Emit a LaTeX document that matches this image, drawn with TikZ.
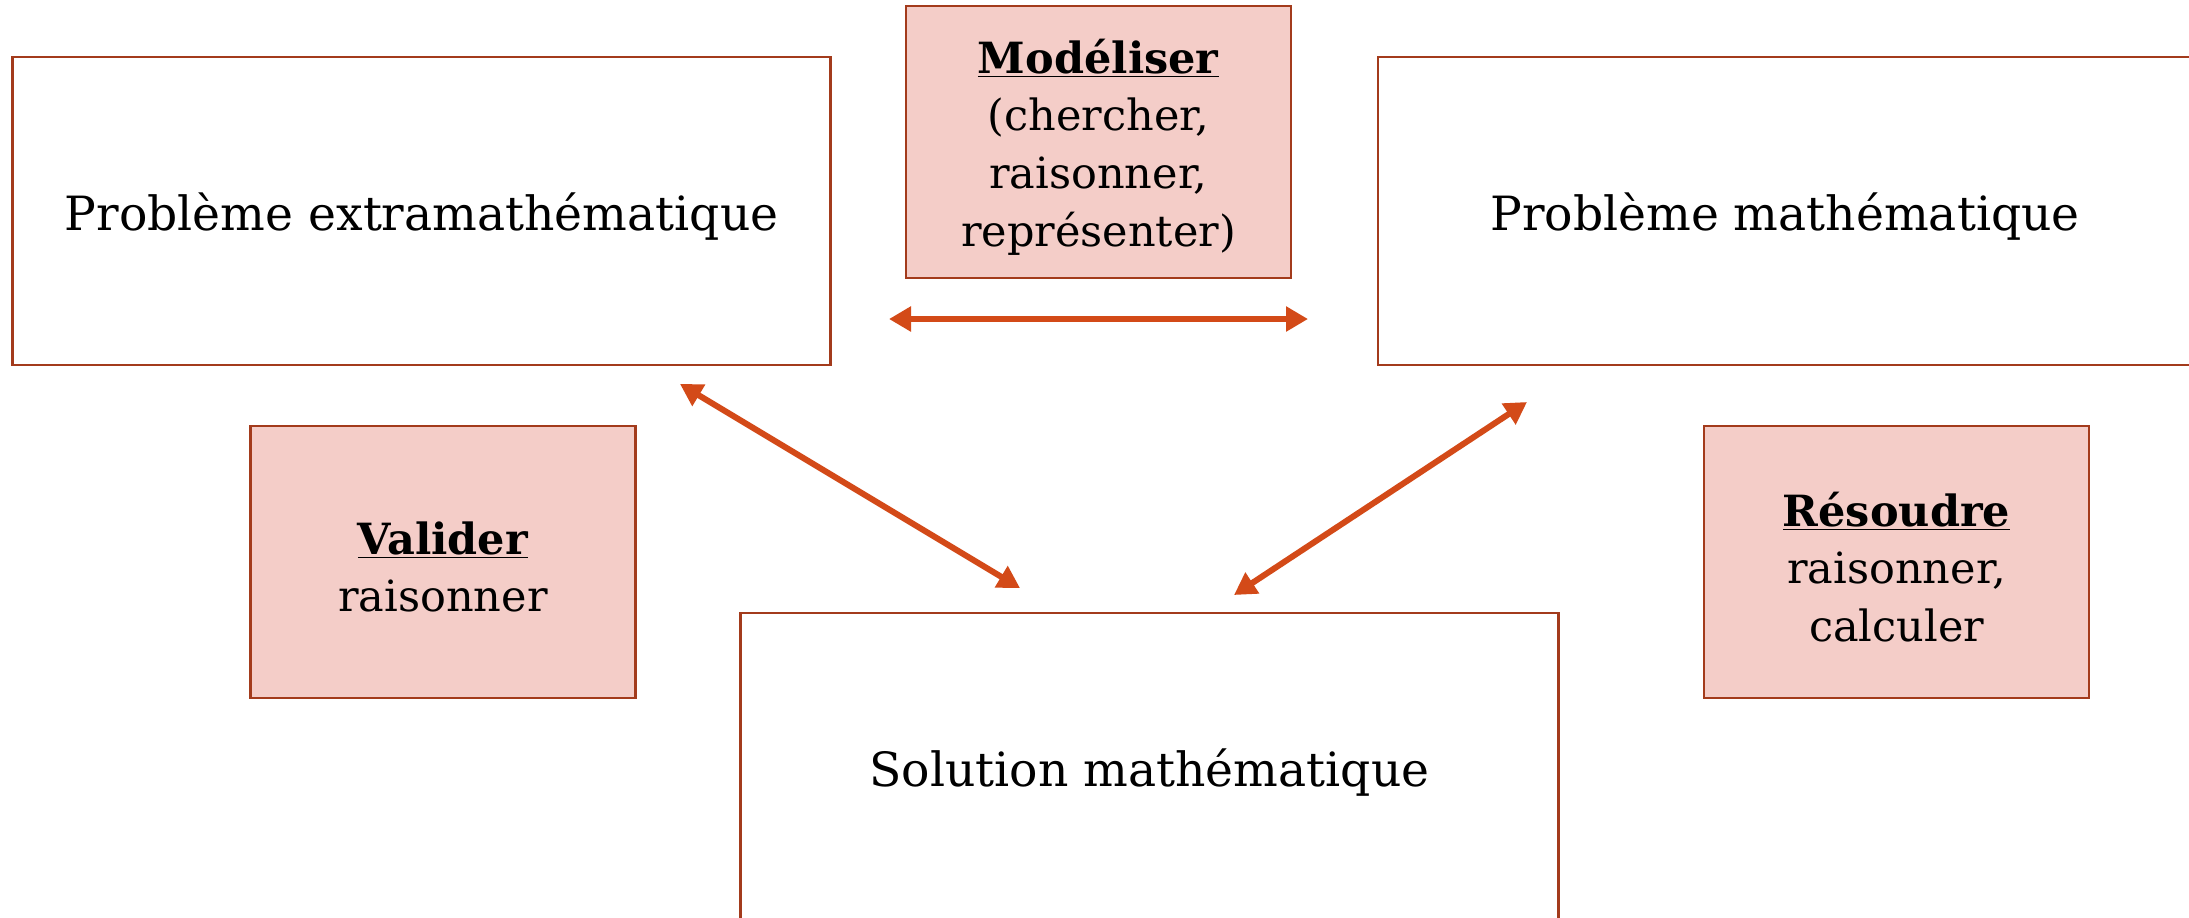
\documentclass[tikz,border=0pt]{standalone}
\usepackage{fontspec}
\setmainfont{DejaVu Serif}
\usetikzlibrary{arrows.meta}
\definecolor{boxline}{HTML}{A33B1C}
\definecolor{boxfill}{HTML}{F4CDC8}
\definecolor{arrowc}{HTML}{D34A18}
\tikzset{
  bigbox/.style={draw=boxline, line width=1.2pt, fill=white, minimum width=409pt, minimum height=154pt, inner sep=0pt},
  bigtext/.style={font=\fontsize{23.6}{28}\selectfont, inner sep=0pt},
  pinkbox/.style={draw=boxline, line width=1.2pt, fill=boxfill, minimum width=192.5pt, minimum height=136pt, inner sep=0pt},
  pinktext/.style={align=center, inner sep=0pt, font=\fontsize{21.5}{28.8}\selectfont},
  dblarrow/.style={draw=arrowc, line width=3pt, {Triangle[length=11pt,width=12pt]}-{Triangle[length=11pt,width=12pt]}}
}
\begin{document}
\begin{tikzpicture}[x=0.5pt,y=-0.5pt]
\useasboundingbox (0,0) rectangle (2189,917);
\node[bigbox, label={[bigtext, yshift=-3pt]center:Problème extramathématique}] (pe) at (421.6,211) {};
\node[bigbox, minimum width=411pt, label={[bigtext, yshift=-3pt, xshift=-2pt]center:Problème mathématique}] (pm) at (1789,211) {};
\node[bigbox, label={[bigtext, yshift=-3pt]center:Solution mathématique}] (sm) at (1149.5,767) {};
\node[pinkbox, label={[pinktext, yshift=-2.5pt]center:{\underline{\textbf{Modéliser}}\\(chercher,\\raisonner,\\représenter)}}] (mod) at (1098.5,142) {};
\node[pinkbox, label={[pinktext, yshift=-2.5pt]center:{\underline{\textbf{Valider}}\\raisonner}}] (val) at (443,562) {};
\node[pinkbox, label={[pinktext, yshift=-2.5pt]center:{\underline{\textbf{Résoudre}}\\raisonner,\\calculer}}] (res) at (1896.5,562) {};
\coordinate (h1) at (889,319);
\coordinate (h2) at (1308,319);
\coordinate (d1) at (680,384);
\coordinate (d2) at (1020,588);
\coordinate (e1) at (1527,402);
\coordinate (e2) at (1234,595);
\draw[dblarrow] (h1) -- (h2);
\draw[dblarrow] (d1) -- (d2);
\draw[dblarrow] (e1) -- (e2);
\end{tikzpicture}
\end{document}
